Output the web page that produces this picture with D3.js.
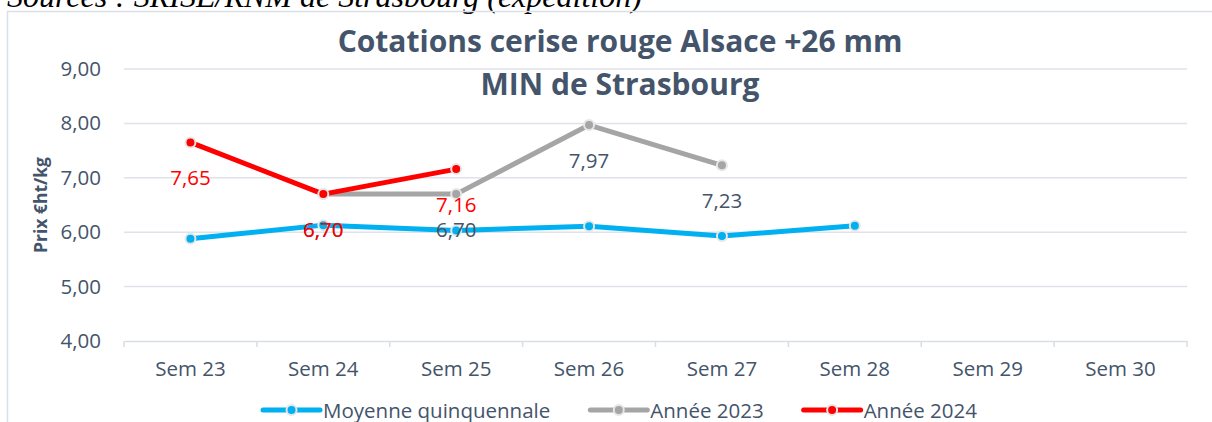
<!DOCTYPE html>
<html>
<head>
<meta charset="utf-8">
<script src="https://cdn.jsdelivr.net/npm/d3@7"></script>
<style>
  body { margin: 0; background: #fff; }
  text { font-family: "Open Sans", sans-serif; fill: #44546a; }
</style>
</head>
<body>
<div class="chart"></div>
<script>
// chart data
var weeks = ["Sem 23", "Sem 24", "Sem 25", "Sem 26", "Sem 27", "Sem 28", "Sem 29", "Sem 30"];
var moyenne = [5.88, 6.13, 6.03, 6.11, 5.93, 6.12, null, null];
var annee2023 = [null, 6.70, 6.70, 7.97, 7.23, null, null, null];
var annee2024 = [7.65, 6.70, 7.16, null, null, null, null, null];
var yTicks = [4, 5, 6, 7, 8, 9];

var series = [
  { name: "Moyenne quinquennale", values: moyenne, color: "#00b0f0", labels: false, labelColor: "#44546a" },
  { name: "Année 2023", values: annee2023, color: "#a5a5a5", labels: true, labelColor: "#44546a" },
  { name: "Année 2024", values: annee2024, color: "#ff0000", labels: true, labelColor: "#ff0000" }
];

var svgWidth = 1212;
var svgHeight = 422;
var margin = { top: 69, right: 25, bottom: 81, left: 124 };
var width = svgWidth - margin.left - margin.right;
var height = svgHeight - margin.top - margin.bottom;

var svg = d3.select(".chart")
    .append("svg")
    .attr("width", svgWidth)
    .attr("height", svgHeight);

// source line, cut by the top edge
svg.append("text")
    .attr("x", 7)
    .attr("y", 7)
    .style("font-family", "'Liberation Serif', serif")
    .style("font-style", "italic")
    .style("font-size", "32px")
    .style("fill", "#000")
    .text("Sources : SRISE/RNM de Strasbourg (expédition)");

// chart frame
svg.append("rect")
    .attr("x", 7.5)
    .attr("y", 11.5)
    .attr("width", 1240)
    .attr("height", 440)
    .attr("fill", "none")
    .attr("stroke", "#dadee6")
    .attr("stroke-width", 1.5);

var chart = svg.append("g")
    .attr("transform", `translate(${margin.left},${margin.top})`);

var xScale = d3.scaleBand().domain(weeks).range([0, width]);
var yScale = d3.scaleLinear().domain([4, 9]).range([height, 0]);
var fmt = function (d) { return d3.format(".2f")(d).replace(".", ","); };

// gridlines
chart.selectAll(".grid")
    .data(yTicks.slice(1))
    .enter()
    .append("line")
    .attr("x1", 0)
    .attr("x2", width)
    .attr("y1", function (d) { return yScale(d); })
    .attr("y2", function (d) { return yScale(d); })
    .attr("stroke", "#dfe2e9")
    .attr("stroke-width", 1.5);

// y axis labels
var yAxis = d3.axisLeft(yScale).tickValues(yTicks).tickFormat(fmt).tickSize(0).tickPadding(23);
var yG = chart.append("g").call(yAxis);
yG.select(".domain").remove();
yG.selectAll("text").style("font-size", "20.5px").style("fill", "#44546a");

// x axis
var xAxis = d3.axisBottom(xScale).tickSize(0).tickPadding(20);
var xG = chart.append("g")
    .attr("transform", `translate(0,${height})`)
    .call(xAxis);
xG.select(".domain").attr("stroke", "#d9dde5").attr("stroke-width", 1.5);
xG.selectAll("text").style("font-size", "20.5px").style("fill", "#44546a");

// category boundary ticks
var bounds = weeks.map(function (w) { return xScale(w); }).concat([width]);
chart.selectAll(".btick")
    .data(bounds)
    .enter()
    .append("line")
    .attr("x1", function (d) { return d; })
    .attr("x2", function (d) { return d; })
    .attr("y1", height)
    .attr("y2", height + 6)
    .attr("stroke", "#d9dde5")
    .attr("stroke-width", 1.5);

var xc = function (i) { return xScale(weeks[i]) + xScale.bandwidth() / 2; };

var line = d3.line()
    .defined(function (d) { return d != null; })
    .x(function (d, i) { return xc(i); })
    .y(function (d) { return yScale(d); });

series.forEach(function (s) {
  var g = chart.append("g");
  g.append("path")
      .datum(s.values)
      .attr("d", line)
      .attr("fill", "none")
      .attr("stroke", s.color)
      .attr("stroke-width", 5)
      .attr("stroke-linejoin", "round");
  var pts = s.values.map(function (v, i) { return { v: v, i: i }; })
      .filter(function (d) { return d.v != null; });
  g.selectAll("circle")
      .data(pts)
      .enter()
      .append("circle")
      .attr("cx", function (d) { return xc(d.i); })
      .attr("cy", function (d) { return yScale(d.v); })
      .attr("r", 5)
      .attr("fill", s.color)
      .attr("stroke", "#e6e6e6")
      .attr("stroke-width", 2);
});

// data labels on top
series.filter(function (s) { return s.labels; }).forEach(function (s) {
  var pts = s.values.map(function (v, i) { return { v: v, i: i }; })
      .filter(function (d) { return d.v != null; });
  chart.append("g").selectAll("text")
      .data(pts)
      .enter()
      .append("text")
      .attr("x", function (d) { return xc(d.i); })
      .attr("y", function (d) { return yScale(d.v) + 43; })
      .attr("text-anchor", "middle")
      .style("font-size", "20.5px")
      .style("fill", s.labelColor)
      .text(function (d) { return fmt(d.v); });
});

// y axis title
svg.append("text")
    .attr("transform", "translate(47,205) rotate(-90)")
    .attr("text-anchor", "middle")
    .style("font-size", "17.5px")
    .style("font-weight", "bold")
    .text("Prix €ht/kg");

// title
var title = svg.append("text")
    .attr("text-anchor", "middle")
    .style("font-size", "30px")
    .style("font-weight", "bold");
title.append("tspan").attr("x", 620).attr("y", 52).text("Cotations cerise rouge Alsace +26 mm");
title.append("tspan").attr("x", 620).attr("y", 95).text("MIN de Strasbourg");

// legend
var legend = svg.append("g");
var xPos = 0;
series.forEach(function (s, k) {
  var item = legend.append("g").attr("transform", `translate(${xPos},0)`);
  item.append("line")
      .attr("x1", 0).attr("x2", 57)
      .attr("y1", 0).attr("y2", 0)
      .attr("stroke", s.color)
      .attr("stroke-width", 5)
      .attr("stroke-linecap", "round");
  item.append("circle")
      .attr("cx", 28.5).attr("cy", 0).attr("r", 5)
      .attr("fill", s.color)
      .attr("stroke", "#e6e6e6")
      .attr("stroke-width", 2);
  var t = item.append("text")
      .attr("x", 60)
      .attr("y", 7.5)
      .style("font-size", "20.5px")
      .text(s.name);
  xPos += 60 + t.node().getComputedTextLength() + 40;
});
var legendWidth = xPos - 40;
legend.attr("transform", `translate(${620 - legendWidth / 2},410)`);
</script>
</body>
</html>
